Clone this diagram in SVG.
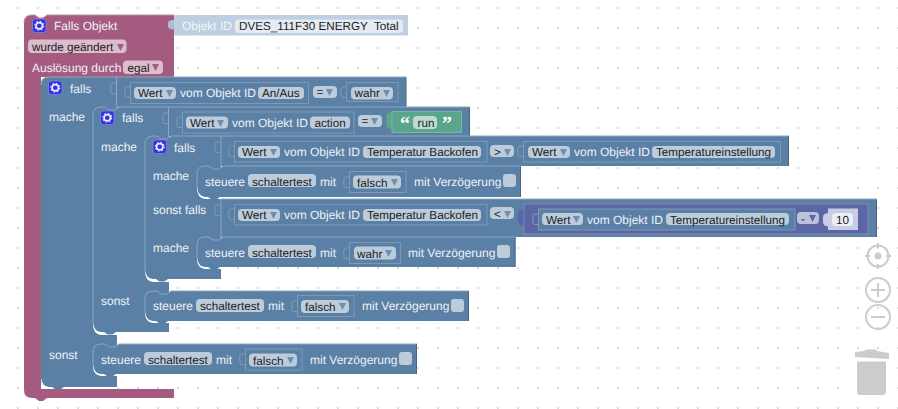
<svg xmlns="http://www.w3.org/2000/svg" xmlns:xlink="http://www.w3.org/1999/xlink" width="898" height="409" viewBox="0 0 898 409">
<style>
text{font-family:"Liberation Sans",Arial,sans-serif;font-size:12px;text-rendering:geometricPrecision}
.w{fill:#eef2f6}.d{fill:#1c1c26;font-size:11.7px}
.bl{fill:#5b80a5}.hi{fill:none;stroke:#8ca6c0;stroke-width:1}.sh{fill:none;stroke:#496684;stroke-width:1}
.f{fill:#bdccdb}.ck{fill:#bdccdb}
.v{fill:#5b80a5;stroke:#7c99b7;stroke-width:1}
.tab{fill:none;stroke:#7c99b7;stroke-width:1}
.a{fill:#6f8fb0}
.g{fill:#fff}.t{fill:#5b80a5}
.ctl{fill:none;stroke:#ccc;stroke-width:2}
</style>
<defs>
<pattern id="dots" x="17" y="7" width="20" height="20" patternUnits="userSpaceOnUse"><rect x="0" y="0" width="2" height="2" fill="#dcdcdc"/></pattern>
<g id="icon"><rect x="0" y="0" width="13.5" height="13.5" rx="3" fill="#3333dd" stroke="#8a8ae8" stroke-width=".7"/><circle cx="6.75" cy="6.75" r="3.2" fill="none" stroke="#e8e8ff" stroke-width="1.7"/><circle cx="6.75" cy="6.75" r="4.4" fill="none" stroke="#e8e8ff" stroke-width="1.2" stroke-dasharray="1.6 1.85"/></g>
<path id="arr" d="M0 0h7l-3.500 7z"/>
<path id="tb" d="M6 0H2.500Q1 0 1 1.500V4l-1 1 1 1v3q0 1.500 1.500 1.500H6"/>
</defs>
<rect width="898" height="409" fill="#fff"/>
<rect width="898" height="409" fill="url(#dots)"/>

<g id="controls">
<g id="target"><circle class="ctl" cx="878" cy="256" r="10.500"/><circle cx="878" cy="256" r="3.500" fill="#ccc"/><path class="ctl" d="M878 243v5M878 264v5M865 256h5M886 256h5" stroke-width="1.500"/></g>
<g id="zoom-in"><circle class="ctl" cx="878" cy="290" r="12"/><path class="ctl" d="M871 290h14M878 283v14"/></g>
<g id="zoom-out"><circle class="ctl" cx="878" cy="317" r="12"/><path class="ctl" d="M871 317h14"/></g>
<g id="trash" fill="#ccc"><path d="M855 352l9-1 2-1.500 10 0 1 1.500 12 2v6l-34-2z"/><path d="M857 361.500h29v30q0 3.500-3 3.500h-23q-3 0-3-3.500z"/></g>
</g>

<g id="trigger">
<path d="M24 23Q24 15 32 15H35l4 3h4l4-3H174V77H41V389H174V398H47l-4 3h-4l-4-3H32Q24 398 24 390Z" fill="#a55b80"/>
<path d="M24 23Q24 15 32 15H35l4 3h4l4-3H174" fill="none" stroke="#c08ca6" stroke-width="1"/>
<use xlink:href="#icon" href="#icon" x="32.500" y="19"/>
<text class="w" x="54" y="30">Falls Objekt</text>
<rect x="28" y="39.500" width="98.500" height="13.500" rx="4" fill="#dbbdcc"/>
<text class="d" x="32" y="51">wurde geändert</text>
<path d="M0 0h7l-3.500 7z" transform="translate(117 44)" fill="#a55b80"/>
<text class="w" x="32" y="72">Auslösung durch</text>
<rect x="123" y="60.500" width="40" height="13.500" rx="4" fill="#dbbdcc"/>
<text class="d" x="127.500" y="72">egal</text>
<path d="M0 0h7l-3.500 7z" transform="translate(152 64)" fill="#a55b80"/>
</g>

<g id="objekt">
<path d="M174 15H408V35.500H174z" fill="#bdcfe0"/>
<path d="M174 20q-6 0-6 3v3.500q0 2.500 6 3z" fill="#a9bfd4"/>
<text x="182" y="30" fill="#f2f6fa">Objekt ID</text>
<rect x="235" y="19.500" width="168" height="13.500" rx="4" fill="#e4ebf2"/>
<text class="d" x="239" y="30" xml:space="preserve">DVES_111F30 ENERGY  Total</text>
</g>

<g id="if-outer">
<path class="bl" d="M41 85Q41 77 49 77H406V107H117V387H49Q41 387 41 379Z"/>
<path class="hi" d="M41 85Q41 77 49 77H406"/>
<path class="sh" d="M406 77V107"/>
<path class="hi" d="M116.500 77V107"/>
<use xlink:href="#icon" href="#icon" x="48.500" y="81"/>
<text class="w" x="70" y="93">falls</text>
<text class="w" x="49" y="121">mache</text>
<text class="w" x="49" y="359">sonst</text>
<use class="tab" xlink:href="#tb" href="#tb" x="110" y="83"/>
<use class="tab" xlink:href="#tb" href="#tb" x="124" y="87"/>
<rect class="v" x="130.500" y="82.500" width="178" height="21"/>
<rect class="f" x="134" y="87" width="42" height="12" rx="4"/>
<text class="d" x="138" y="97">Wert</text><use class="a" xlink:href="#arr" href="#arr" x="166" y="90"/>
<text class="w" x="180" y="97">vom Objekt ID</text>
<rect class="f" x="258" y="87" width="46" height="12" rx="4"/>
<text class="d" x="262" y="97">An/Aus</text>
<rect class="f" x="313" y="86" width="24" height="12" rx="4"/>
<text class="d" x="316.500" y="96">=</text><use class="a" xlink:href="#arr" href="#arr" x="326" y="89"/>
<use class="tab" xlink:href="#tb" href="#tb" x="340" y="87"/>
<rect class="v" x="346.500" y="82.500" width="51.500" height="19"/>
<rect class="f" x="351" y="87" width="42" height="12.500" rx="4"/>
<text class="d" x="354.500" y="97">wahr</text><use class="a" xlink:href="#arr" href="#arr" x="383" y="90"/>
<path class="g" d="M41.500 379Q42 386 49 387H117V389H49Q41 388 41 379Z"/>
<path class="t" d="M52 387l3.500 2.500h5l3.500-2.500z"/>
</g>

<g id="if-run">
<path class="bl" d="M93 115Q93 107 101 107H105l4 3h6l4-3H469V136H169V332H101Q93 332 93 324Z"/>
<path class="hi" d="M93 115Q93 107 101 107H105l4 3h6l4-3H469"/>
<path class="hi" d="M93 115V324"/>
<path class="sh" d="M469.500 107V136"/>
<path class="hi" d="M168.500 107V136"/>
<use xlink:href="#icon" href="#icon" x="100.500" y="111"/>
<text class="w" x="122" y="122">falls</text>
<text class="w" x="101" y="151">mache</text>
<text class="w" x="101" y="305">sonst</text>
<use class="tab" xlink:href="#tb" href="#tb" x="162" y="113"/>
<use class="tab" xlink:href="#tb" href="#tb" x="176" y="117"/>
<rect class="v" x="182.500" y="112" width="171.500" height="21"/>
<rect class="f" x="186" y="116.500" width="42" height="12" rx="4"/>
<text class="d" x="190" y="127">Wert</text><use class="a" xlink:href="#arr" href="#arr" x="217" y="120"/>
<text class="w" x="232" y="127">vom Objekt ID</text>
<rect class="f" x="310" y="116.500" width="40" height="12" rx="4"/>
<text class="d" x="314.500" y="127">action</text>
<rect class="f" x="358" y="115" width="24" height="12" rx="4"/>
<text class="d" x="361.500" y="125">=</text><use class="a" xlink:href="#arr" href="#arr" x="371" y="118"/>
<g id="text-run">
<path d="M392 112q-6 .5-6 5v7q0 4.500 6 5z" fill="#5ba58c"/>
<rect x="392" y="111.500" width="69.500" height="21" fill="#5ba58c" stroke="#8cc0ae" stroke-width=".7"/>
<text x="400" y="130" fill="#fff" font-weight="bold" style="font-size:20px;font-family:'Liberation Serif',serif">“</text>
<rect x="413" y="116" width="24" height="13" rx="4" fill="#bddbd1"/>
<text class="d" x="417.500" y="127">run</text>
<text x="442" y="130" fill="#fff" font-weight="bold" style="font-size:20px;font-family:'Liberation Serif',serif">”</text>
</g>
<path class="g" d="M93.500 324Q94 331 101 332H117V335H101Q93 334 93 324Z"/>
<path class="t" d="M104 332l3.500 2.500h5l3.500-2.500z"/>
</g>

<g id="if-temp">
<path class="bl" d="M145 144Q145 136 153 136H157l4 3h6l4-3H789V166H221V199H877V237H221V279H153Q145 279 145 271Z"/>
<path class="hi" d="M145 144Q145 136 153 136H157l4 3h6l4-3H789"/>
<path class="hi" d="M145 144V271"/>
<path class="sh" d="M788.500 136V166M876.500 199V237"/>
<path class="hi" d="M221 199H877M221 136V166M221 199V237"/>
<use xlink:href="#icon" href="#icon" x="153" y="140"/>
<text class="w" x="174" y="152">falls</text>
<text class="w" x="153" y="180">mache</text>
<text class="w" x="153" y="214">sonst falls</text>
<text class="w" x="153" y="252">mache</text>
<use class="tab" xlink:href="#tb" href="#tb" x="214" y="142"/>
<use class="tab" xlink:href="#tb" href="#tb" x="228" y="146"/>
<rect class="v" x="234.500" y="141.500" width="252.500" height="20.500"/>
<rect class="f" x="238" y="146" width="42" height="12" rx="4"/>
<text class="d" x="242" y="156">Wert</text><use class="a" xlink:href="#arr" href="#arr" x="270" y="149"/>
<text class="w" x="284" y="156">vom Objekt ID</text>
<rect class="f" x="363" y="146" width="118" height="12" rx="4"/>
<text class="d" x="367" y="156">Temperatur Backofen</text>
<rect class="f" x="490" y="145" width="24" height="12" rx="4"/>
<text class="d" x="494" y="156">&gt;</text><use class="a" xlink:href="#arr" href="#arr" x="504" y="149"/>
<use class="tab" xlink:href="#tb" href="#tb" x="517" y="146"/>
<rect class="v" x="523.500" y="141.500" width="257" height="20.500"/>
<rect class="f" x="528" y="146" width="42" height="12" rx="4"/>
<text class="d" x="532" y="156">Wert</text><use class="a" xlink:href="#arr" href="#arr" x="560" y="149"/>
<text class="w" x="574" y="156">vom Objekt ID</text>
<rect class="f" x="652" y="146" width="123" height="12" rx="4"/>
<text class="d" x="656" y="156">Temperatureinstellung</text>

<use class="tab" xlink:href="#tb" href="#tb" x="214" y="205"/>
<use class="tab" xlink:href="#tb" href="#tb" x="228" y="209"/>
<rect class="v" x="234.500" y="204.500" width="252.500" height="20.500"/>
<rect class="f" x="238" y="209" width="42" height="12" rx="4"/>
<text class="d" x="242" y="219">Wert</text><use class="a" xlink:href="#arr" href="#arr" x="270" y="212"/>
<text class="w" x="284" y="219">vom Objekt ID</text>
<rect class="f" x="363" y="209" width="118" height="12" rx="4"/>
<text class="d" x="367" y="219">Temperatur Backofen</text>
<rect class="f" x="490" y="207" width="24" height="12" rx="4"/>
<text class="d" x="494" y="218">&lt;</text><use class="a" xlink:href="#arr" href="#arr" x="504" y="211"/>
<g id="minus">
<path d="M524 209q-6 .5-6 5v7q0 4.500 6 5z" fill="#5b67a5"/>
<rect x="524" y="204" width="344" height="30" fill="#5b67a5" stroke="#8c95c0" stroke-width=".7"/>
<use class="tab" xlink:href="#tb" href="#tb" x="532" y="214"/>
<rect class="v" x="538.500" y="209" width="256.500" height="21"/>
<rect class="f" x="542" y="213" width="41" height="12" rx="4"/>
<text class="d" x="546" y="224">Wert</text><use class="a" xlink:href="#arr" href="#arr" x="573" y="216"/>
<text class="w" x="587" y="224">vom Objekt ID</text>
<rect class="f" x="666" y="213" width="123" height="12" rx="4"/>
<text class="d" x="670" y="224">Temperatureinstellung</text>
<rect x="797" y="212" width="22" height="12" rx="4" fill="#bdc2db"/>
<text class="d" x="801" y="223">-</text><use fill="#5b67a5" xlink:href="#arr" href="#arr" x="809" y="215"/>
<path d="M828 213q-5 .5-5 4v5q0 4 5 4.500z" fill="#c9cde3"/>
<rect x="828" y="208.500" width="30" height="21.500" fill="#c9cde3"/>
<rect x="832" y="213" width="21" height="13" rx="4" fill="#edeff7"/>
<text class="d" x="836" y="224">10</text>
</g>
<path class="g" d="M145.500 271Q146 278 153 279H169V282H153Q145 281 145 271Z"/>
<path class="t" d="M156 279l3.500 2.500h5l3.500-2.500z"/>
</g>

<g id="set-false-1">
<path class="bl" d="M197 174Q197 166 205 166H209l4 3h6l4-3H521V197H205Q197 197 197 188Z"/>
<path class="hi" d="M197 188V174Q197 166 205 166H209l4 3h6l4-3H521"/>
<path class="sh" d="M520.500 166V197"/>
<text class="w" x="205" y="186">steuere</text>
<rect class="f" x="248" y="174" width="68" height="13" rx="4"/>
<text class="d" x="252" y="186">schaltertest</text>
<text class="w" x="320" y="186">mit</text>
<use class="tab" xlink:href="#tb" href="#tb" x="343" y="177"/>
<rect class="v" x="349.500" y="171.500" width="56.500" height="21"/>
<rect class="f" x="353" y="175.500" width="48" height="13" rx="4"/>
<text class="d" x="357" y="187">falsch</text><use class="a" xlink:href="#arr" href="#arr" x="391" y="179"/>
<text class="w" x="414" y="186">mit Verzögerung</text>
<rect class="ck" x="503" y="174" width="13" height="13" rx="3"/>
<path class="g" d="M197.500 188Q198 196 205 197H221V199H205Q197 198 197 188Z"/>
<path class="t" d="M208 197l3.500 2.500h5l3.500-2.500z"/>
</g>

<g id="set-true">
<path class="bl" d="M197 245Q197 237 205 237H209l4 3h6l4-3H515.500V267H205Q197 267 197 259Z"/>
<path class="hi" d="M197 259V245Q197 237 205 237H209l4 3h6l4-3H515.500"/>
<path class="sh" d="M515 237V267"/>
<text class="w" x="205" y="257">steuere</text>
<rect class="f" x="248" y="245" width="68" height="13" rx="4"/>
<text class="d" x="252" y="257">schaltertest</text>
<text class="w" x="320" y="257">mit</text>
<use class="tab" xlink:href="#tb" href="#tb" x="343" y="248"/>
<rect class="v" x="349.500" y="242.500" width="51" height="21"/>
<rect class="f" x="354" y="246.500" width="42" height="13" rx="4"/>
<text class="d" x="357" y="257.500">wahr</text><use class="a" xlink:href="#arr" href="#arr" x="385" y="250"/>
<text class="w" x="408" y="257">mit Verzögerung</text>
<rect class="ck" x="497" y="245" width="13" height="13" rx="3"/>
<path class="g" d="M197.500 259Q198 266 205 267H221V269H205Q197 268 197 259Z"/>
<path class="t" d="M208 267l3.500 2.500h5l3.500-2.500z"/>
</g>

<g id="set-false-2">
<path class="bl" d="M145 299Q145 291 153 291H157l4 3h6l4-3H469V321H153Q145 321 145 313Z"/>
<path class="hi" d="M145 313V299Q145 291 153 291H157l4 3h6l4-3H469"/>
<path class="sh" d="M468.500 291V321"/>
<text class="w" x="153" y="310">steuere</text>
<rect class="f" x="196" y="299" width="68" height="13" rx="4"/>
<text class="d" x="200" y="310">schaltertest</text>
<text class="w" x="268" y="310">mit</text>
<use class="tab" xlink:href="#tb" href="#tb" x="291" y="301"/>
<rect class="v" x="297.500" y="295.500" width="56.500" height="21"/>
<rect class="f" x="301" y="300" width="48" height="13" rx="4"/>
<text class="d" x="305" y="311">falsch</text><use class="a" xlink:href="#arr" href="#arr" x="339" y="303"/>
<text class="w" x="362" y="310">mit Verzögerung</text>
<rect class="ck" x="451" y="299" width="13" height="13" rx="3"/>
<path class="g" d="M145.500 313Q146 320 153 321H169V323H153Q145 322 145 313Z"/>
<path class="t" d="M156 321l3.500 2.500h5l3.500-2.500z"/>
</g>

<g id="set-false-3">
<path class="bl" d="M93 352Q93 344 101 344H105l4 3h6l4-3H417V374H101Q93 374 93 366Z"/>
<path class="hi" d="M93 366V352Q93 344 101 344H105l4 3h6l4-3H417"/>
<path class="sh" d="M416.500 344V374"/>
<text class="w" x="101" y="364">steuere</text>
<rect class="f" x="144" y="352" width="68" height="13" rx="4"/>
<text class="d" x="148" y="364">schaltertest</text>
<text class="w" x="216" y="364">mit</text>
<use class="tab" xlink:href="#tb" href="#tb" x="239" y="354"/>
<rect class="v" x="245.500" y="349" width="56.500" height="21"/>
<rect class="f" x="249" y="353.500" width="48" height="13" rx="4"/>
<text class="d" x="253" y="365">falsch</text><use class="a" xlink:href="#arr" href="#arr" x="287" y="357"/>
<text class="w" x="310" y="364">mit Verzögerung</text>
<rect class="ck" x="399" y="352" width="13" height="13" rx="3"/>
<path class="g" d="M93.500 366Q94 373 101 374H117V376H101Q93 375 93 366Z"/>
<path class="t" d="M104 374l3.500 2.500h5l3.500-2.500z"/>
</g>
<g id="connectors"></g>
</svg>
